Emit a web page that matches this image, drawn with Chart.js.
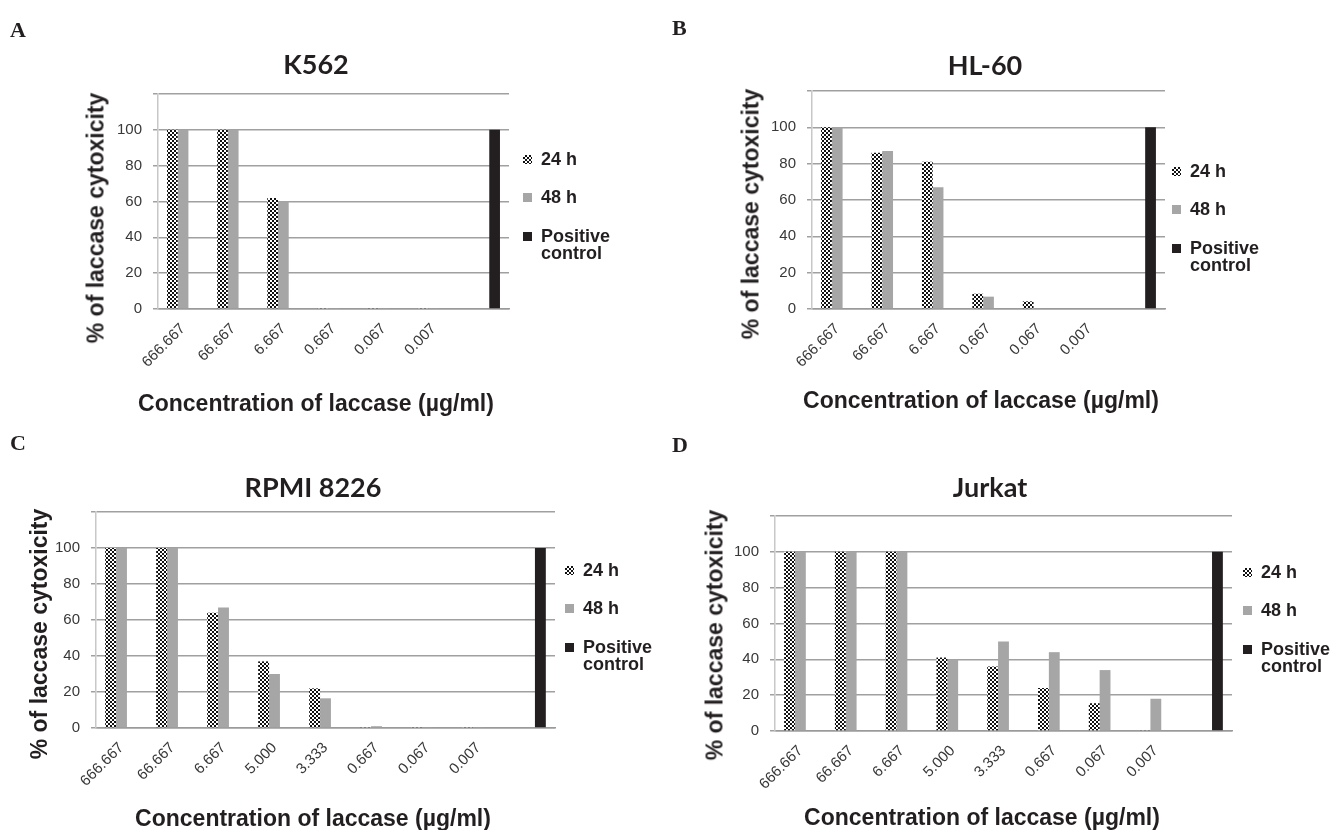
<!DOCTYPE html>
<html>
<head>
<meta charset="utf-8">
<title>Laccase cytotoxicity</title>
<script src="https://cdn.jsdelivr.net/npm/chart.js@4.4.1/dist/chart.umd.min.js"></script>
<style>
  html, body { margin: 0; padding: 0; background: #fff; }
  body { position: relative; width: 1333px; height: 830px; overflow: hidden; color: #231f20; }
  canvas { position: absolute; }
  .txt { position: absolute; white-space: nowrap; line-height: 1; }
  .letter { font: bold 22px 'Liberation Serif', 'DejaVu Serif', serif; }
  .title { font: bold 27px Lato, 'Open Sans', sans-serif; transform: translate(-50%, -50%); }
  .axis-title { font: bold 23px 'Liberation Sans', Arial, sans-serif; transform: translate(-50%, -50%); }
  .y-title { transform: translate(-50%, -50%) rotate(-90deg); }
  .leg { position: absolute; font: bold 18px 'Liberation Sans', Arial, sans-serif; line-height: 17px; width: 80px; }
  .mark { position: absolute; width: 9px; height: 9px; }
</style>
</head>
<body>
<script>
// concentrations of laccase (µg/ml) on the x axis
const concK562 = ['666.667', '66.667', '6.667', '0.667', '0.067', '0.007'];
const concHL60 = ['666.667', '66.667', '6.667', '0.667', '0.067', '0.007'];
const concRPMI = ['666.667', '66.667', '6.667', '5.000', '3.333', '0.667', '0.067', '0.007'];
const concJurkat = ['666.667', '66.667', '6.667', '5.000', '3.333', '0.667', '0.067', '0.007'];

// % of laccase cytotoxicity
const k562_24h = [100, 100, 62, 0.3, 0.3, 0.3];
const k562_48h = [100, 100, 60, 0.2, 0.2, 0.2];
const hl60_24h = [100, 86, 81, 8.4, 4.2, 0.4];
const hl60_48h = [100, 87, 67, 6.8, 0.5, 0.4];
const rpmi_24h = [100, 100, 64, 37, 22, 0.3, 0.3, 0.3];
const rpmi_48h = [100, 100, 67, 30, 16.5, 1, 0.3, 0.3];
const jurkat_24h = [100, 100, 100, 41, 36, 24, 15.5, 0.5];
const jurkat_48h = [100, 100, 100, 40, 50, 44, 34, 18];
const positiveControl = 100;

const seriesNames = ['24 h', '48 h', 'Positive control'];
const yMax = 120;
const yStep = 20;
const yLabelMax = 100;

const xTitle = 'Concentration of laccase (µg/ml)';
const yTitle = '% of laccase cytoxicity';

const color48 = '#a6a6a6';
const colorControl = '#231f20';
const tickColor = '#383838';
const tickFont = "'Liberation Sans', Arial, sans-serif";

// checker pattern for the 24 h bars
function makeChecker() {
    const c = document.createElement('canvas');
    c.width = 4; c.height = 4;
    const g = c.getContext('2d');
    g.fillStyle = '#fff';
    g.fillRect(0, 0, 4, 4);
    g.fillStyle = '#111';
    g.fillRect(0, 0, 2, 2);
    g.fillRect(2, 2, 2, 2);
    return g.createPattern(c, 'repeat');
}
const checker = makeChecker();

const panels = [
    { letter: 'A', title: 'K562', labels: concK562, h24: k562_24h, h48: k562_48h,
      box: { x: 0, y: 0, w: 666, h: 415 }, plot: { l: 158, r: 509, t: 94, b: 309 },
      letterPos: [10, 17], titlePos: [316, 63], xTitlePos: [316, 403], yTitlePos: [96, 218],
      legend: { x: 523, y: 159 } },
    { letter: 'B', title: 'HL-60', labels: concHL60, h24: hl60_24h, h48: hl60_48h,
      box: { x: 666, y: 0, w: 667, h: 415 }, plot: { l: 146, r: 499, t: 91, b: 309 },
      letterPos: [672, 15], titlePos: [985, 64], xTitlePos: [981, 400], yTitlePos: [751, 214],
      legend: { x: 1172, y: 171 } },
    { letter: 'C', title: 'RPMI 8226', labels: concRPMI, h24: rpmi_24h, h48: rpmi_48h,
      box: { x: 0, y: 415, w: 666, h: 415 }, plot: { l: 96, r: 555, t: 97, b: 313 },
      letterPos: [10, 430], titlePos: [313, 486], xTitlePos: [313, 818], yTitlePos: [39, 634],
      legend: { x: 565, y: 570 } },
    { letter: 'D', title: 'Jurkat', labels: concJurkat, h24: jurkat_24h, h48: jurkat_48h,
      box: { x: 666, y: 415, w: 667, h: 415 }, plot: { l: 109, r: 566, t: 101, b: 316 },
      letterPos: [672, 432], titlePos: [990, 486], xTitlePos: [982, 817], yTitlePos: [715, 635],
      legend: { x: 1243, y: 572 } }
];

function addText(cls, text, x, y) {
    const d = document.createElement('div');
    d.className = 'txt ' + cls;
    d.textContent = text;
    d.style.left = x + 'px';
    d.style.top = y + 'px';
    document.body.appendChild(d);
    return d;
}

function addLegend(p) {
    const marks = [
        'repeating-conic-gradient(#111 0 25%, #fff 0 50%) 0 0 / 4px 4px',
        color48,
        colorControl
    ];
    seriesNames.forEach((name, i) => {
        const cy = p.legend.y + i * 38.5;
        const m = document.createElement('div');
        m.className = 'mark';
        m.style.left = p.legend.x + 'px';
        m.style.top = (cy - 4.5) + 'px';
        m.style.background = marks[i];
        document.body.appendChild(m);

        const t = document.createElement('div');
        t.className = 'leg';
        t.textContent = name;
        t.style.left = (p.legend.x + 18) + 'px';
        t.style.top = (cy - 8.3) + 'px';
        document.body.appendChild(t);
    });
}

function makeChart(p) {
    const canvas = document.createElement('canvas');
    canvas.width = p.box.w;
    canvas.height = p.box.h;
    canvas.style.left = p.box.x + 'px';
    canvas.style.top = p.box.y + 'px';
    document.body.appendChild(canvas);

    const n = p.labels.length;
    // last category holds the positive control bar, no tick label
    const labels = [...p.labels, ''];

    new Chart(canvas, {
        type: 'bar',
        data: {
            labels: labels,
            datasets: [
                { label: seriesNames[0], data: [...p.h24, null], backgroundColor: checker },
                { label: seriesNames[1], data: [...p.h48, null], backgroundColor: color48 },
                { label: seriesNames[2], data: [...new Array(n).fill(null), positiveControl], backgroundColor: colorControl }
            ]
        },
        options: {
            responsive: false,
            animation: false,
            layout: { padding: { left: 0, top: p.plot.t, right: p.box.w - p.plot.r, bottom: 0 } },
            datasets: { bar: { categoryPercentage: 0.64, barPercentage: 1 } },
            plugins: {
                legend: { display: false },
                title: { display: false },
                tooltip: { enabled: false }
            },
            scales: {
                x: {
                    grid: { display: false, drawTicks: false },
                    border: { color: '#9a9a9a', width: 1.5 },
                    ticks: {
                        autoSkip: false,
                        minRotation: 45,
                        maxRotation: 45,
                        padding: 11,
                        color: tickColor,
                        font: { family: tickFont, size: 15 }
                    },
                    afterFit: (s) => { s.height = p.box.h - p.plot.b; }
                },
                y: {
                    min: 0,
                    max: yMax,
                    ticks: {
                        stepSize: yStep,
                        padding: 11,
                        color: tickColor,
                        font: { family: tickFont, size: 15 },
                        callback: (v) => v > yLabelMax ? '' : v
                    },
                    grid: { color: '#a0a0a0', lineWidth: 1.5, tickLength: 5 },
                    border: { color: '#c8c8c8', width: 1.5 },
                    afterFit: (s) => { s.width = p.plot.l; }
                }
            }
        }
    });

    addText('letter', p.letter, p.letterPos[0], p.letterPos[1]);
    addText('title', p.title, p.titlePos[0], p.titlePos[1]);
    addText('axis-title', xTitle, p.xTitlePos[0], p.xTitlePos[1]);
    addText('axis-title y-title', yTitle, p.yTitlePos[0], p.yTitlePos[1]);
    addLegend(p);
}

panels.forEach(makeChart);
</script>
</body>
</html>
